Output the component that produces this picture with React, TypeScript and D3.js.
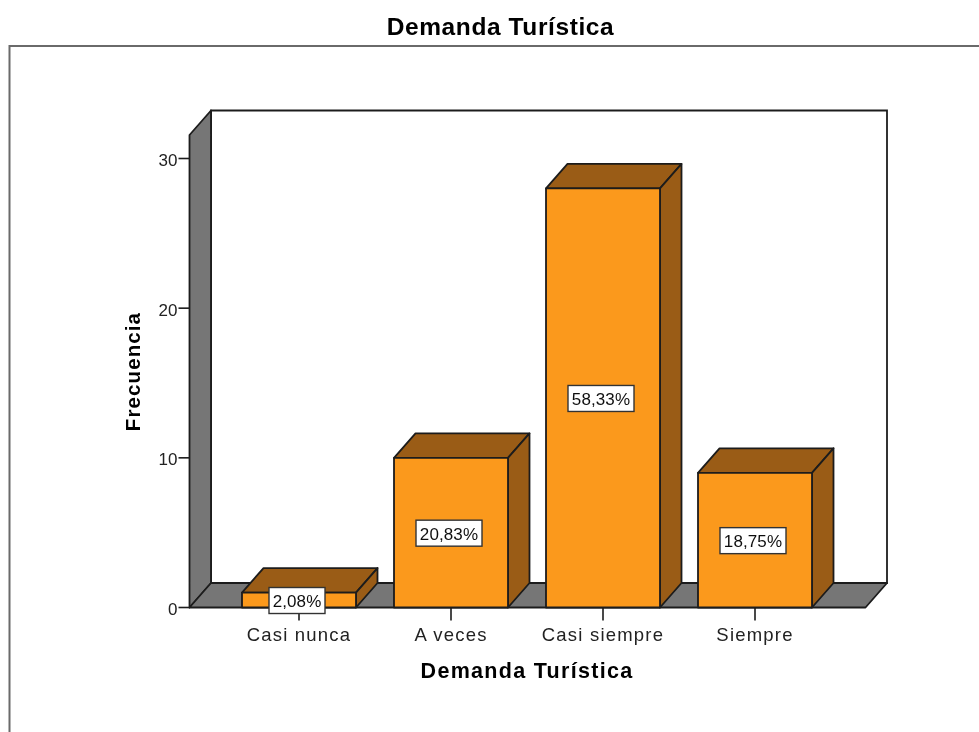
import React from "react";
import * as d3 from "d3";

const categories = ["Casi nunca", "A veces", "Casi siempre", "Siempre"];
const frequencies = [1, 10, 28, 9];
const percentLabels = ["2,08%", "20,83%", "58,33%", "18,75%"];
const yTicks = [0, 10, 20, 30];

const W = 979, H = 732;
const DX = 21.5, DY = -24.5;
const ORANGE = "#FB991F", DARK = "#9A5C12", GRAY = "#767676", INK = "#1c1c1c";
const FONT = "'Liberation Sans', Arial, sans-serif";

const y = d3.scaleLinear().domain([0, 30]).range([607.5, 158.5]);
const x = d3.scaleBand<string>().domain(categories).range([223, 831]).paddingInner(0.25).paddingOuter(0.125);

const frontLeft = 189.5, frontRight = 865.5, wallTop = 135;
const pts = (p: [number, number][]) => p.map(a => a.join(",")).join(" ");

export default function App() {
  const y0 = y(0);
  return (
    <svg width={W} height={H} viewBox={`0 0 ${W} ${H}`} style={{ position: "absolute", left: 0, top: 0, background: "#fff" }} fontFamily={FONT}>
      <defs>
        <filter id="soft" x="0" y="0" width="100%" height="100%" filterUnits="userSpaceOnUse" primitiveUnits="userSpaceOnUse">
          <feGaussianBlur stdDeviation={0.45} />
        </filter>
      </defs>
      <g filter="url(#soft)">
        <rect width={W} height={H} fill="#fff" />
        <text x={500.5} y={35} textAnchor="middle" fontSize={24.5} fontWeight="bold" letterSpacing={0.6} fill="#000">Demanda Turística</text>
        <path d={`M9.5 ${H}V46H${W}`} fill="none" stroke="#6a6a6a" strokeWidth={2} />

        {/* back wall, side wall, floor */}
        <polygon points={pts([[frontLeft + DX, wallTop + DY], [frontRight + DX, wallTop + DY], [frontRight + DX, y0 + DY], [frontLeft + DX, y0 + DY]])} fill="#fff" stroke={INK} strokeWidth={1.8} />
        <polygon points={pts([[frontLeft, wallTop], [frontLeft + DX, wallTop + DY], [frontLeft + DX, y0 + DY], [frontLeft, y0]])} fill={GRAY} stroke={INK} strokeWidth={1.8} strokeLinejoin="round" />
        <polygon points={pts([[frontLeft, y0], [frontLeft + DX, y0 + DY], [frontRight + DX, y0 + DY], [frontRight, y0]])} fill={GRAY} stroke={INK} strokeWidth={1.8} strokeLinejoin="round" />

        {/* y axis */}
        {yTicks.map(t => (
          <g key={t}>
            <line x1={178.5} x2={frontLeft} y1={y(t)} y2={y(t)} stroke={INK} strokeWidth={1.6} />
            <text x={177.5} y={y(t) + 7.5} textAnchor="end" fontSize={17} fill="#222">{t}</text>
          </g>
        ))}
        <text transform={`translate(139.5,371.5) rotate(-90)`} textAnchor="middle" fontSize={20.5} fontWeight="bold" letterSpacing={1.1} fill="#000">Frecuencia</text>

        {/* x axis ticks and labels */}
        {categories.map(c => {
          const cx = x(c)! + x.bandwidth() / 2;
          return (
            <g key={c}>
              <line x1={cx} x2={cx} y1={y0} y2={620.5} stroke={INK} strokeWidth={1.6} />
              <text x={cx} y={641} textAnchor="middle" fontSize={18.5} letterSpacing={1.2} fill="#222">{c}</text>
            </g>
          );
        })}
        <text x={527} y={678} textAnchor="middle" fontSize={21.5} fontWeight="bold" letterSpacing={1.3} fill="#000">Demanda Turística</text>

        {/* bars */}
        {categories.map((c, i) => {
          const bx = x(c)!, bw = x.bandwidth(), top = y(frequencies[i]);
          return (
            <g key={c} stroke={INK} strokeWidth={1.8} strokeLinejoin="round">
              <polygon points={pts([[bx, top], [bx + DX, top + DY], [bx + bw + DX, top + DY], [bx + bw, top]])} fill={DARK} />
              <polygon points={pts([[bx + bw, top], [bx + bw + DX, top + DY], [bx + bw + DX, y0 + DY], [bx + bw, y0]])} fill={DARK} />
              <rect x={bx} y={top} width={bw} height={y0 - top} fill={ORANGE} />
            </g>
          );
        })}

        {/* data labels */}
        {categories.map((c, i) => {
          const cx = x(c)! + x.bandwidth() / 2 - 2;
          const cy = (y(frequencies[i]) + y0) / 2 + 0.5;
          const bw = i === 0 ? 56 : 66, bh = 26;
          return (
            <g key={c}>
              <rect x={cx - bw / 2} y={cy - bh / 2} width={bw} height={bh} fill="#fff" stroke="#333" strokeWidth={1.4} />
              <text x={cx} y={cy + 6.5} textAnchor="middle" fontSize={17} letterSpacing={0.1} fill="#111">{percentLabels[i]}</text>
            </g>
          );
        })}
      </g>
    </svg>
  );
}
